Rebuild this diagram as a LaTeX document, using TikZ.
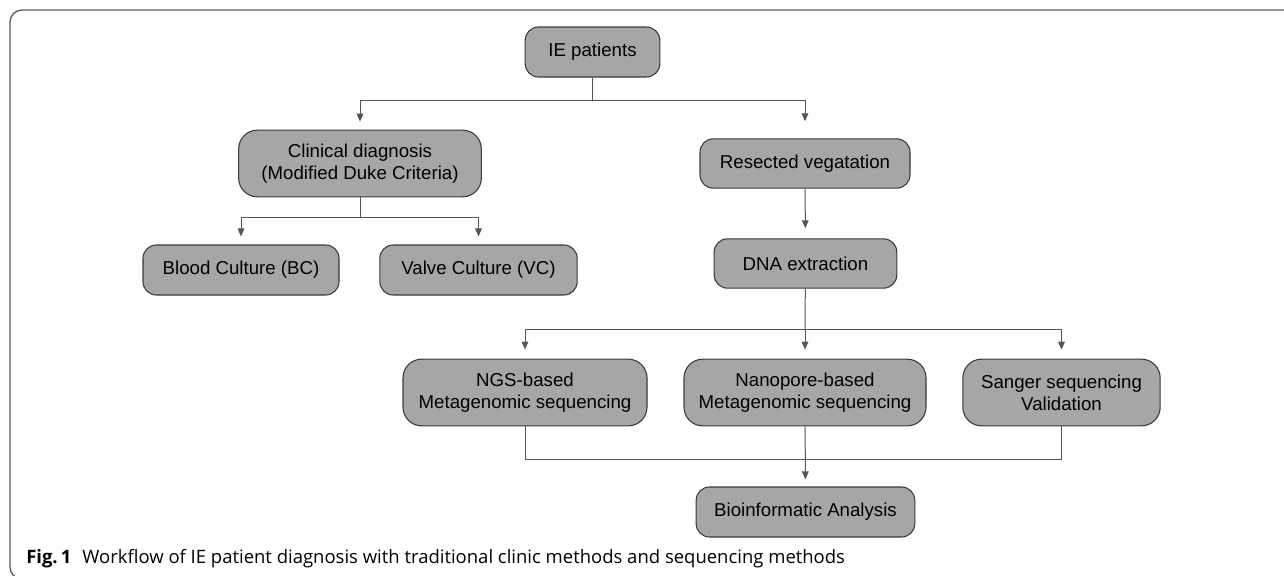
\documentclass[tikz,border=0pt]{standalone}
\usepackage{fontspec}
\setmainfont{Liberation Sans}
\newfontfamily\capfont{Open Sans}
\usetikzlibrary{arrows.meta}
\definecolor{boxfill}{HTML}{A6A6A6}
\definecolor{boxline}{HTML}{3A3A3A}
\definecolor{conn}{HTML}{555555}
\definecolor{framec}{HTML}{5A5A5A}
\tikzset{
  stepbox/.style={draw=boxline, fill=boxfill, line width=0.8pt, rounded corners=10pt,
    align=center, inner sep=0pt, font=\fontsize{14}{16.5}\selectfont, text=black},
  conn/.style={draw=conn, line width=0.75pt},
  arr/.style={conn, -{Triangle[length=6pt,width=5pt]}},
}
\begin{document}
\begin{tikzpicture}[x=0.75pt,y=-0.75pt]
\useasboundingbox (0,0) rectangle (1284,575);
\clip (0,0) rectangle (1284,575);
\draw[framec, line width=1pt, rounded corners=9pt] (10,10) rectangle (1310,579);

% nodes
\node[stepbox, minimum width=101pt, minimum height=37.5pt] (ie) at (592.5,52) {IE patients};
\node[stepbox, minimum width=182pt, minimum height=50pt, rounded corners=14pt] (clin) at (360,163.5) {Clinical diagnosis\\(Modified Duke Criteria)};
\node[stepbox, minimum width=157.5pt, minimum height=37pt] (res) at (805,163.5) {Resected vegatation};
\node[stepbox, minimum width=147pt, minimum height=37.5pt] (bc) at (241,270) {Blood Culture (BC)};
\node[stepbox, minimum width=148pt, minimum height=37.5pt] (vc) at (478.5,270) {Valve Culture (VC)};
\node[stepbox, minimum width=137pt, minimum height=37pt] (dna) at (805.5,263.5) {DNA extraction};
\node[stepbox, minimum width=183pt, minimum height=50pt, rounded corners=14pt] (ngs) at (525,392.5) {NGS-based\\Metagenomic sequencing};
\node[stepbox, minimum width=181.5pt, minimum height=50pt, rounded corners=14pt] (nano) at (805,392.5) {Nanopore-based\\Metagenomic sequencing};
\node[stepbox, minimum width=148pt, minimum height=50pt, rounded corners=14pt] (sang) at (1061.5,392.5) {Sanger sequencing\\Validation};
\node[stepbox, minimum width=164pt, minimum height=37.5pt] (bio) at (805.5,512) {Bioinformatic Analysis};

% junction coordinates
\coordinate (j1) at (592.5,100);
\coordinate (j2) at (360,217);
\coordinate (j3) at (805,329);
\coordinate (j4) at (805,459);

% connectors
\draw[conn] (ie) -- (j1);
\draw[arr, shorten >=6pt] (j1) -| (clin);
\draw[arr, shorten >=12.75pt] (j1) -| (res);
\draw[conn] (clin) -- (j2);
\draw[arr, shorten >=6pt] (j2) -| (bc);
\draw[arr, shorten >=6pt] (j2) -| (vc);
\draw[arr, shorten >=7.5pt] (res) -- (dna);
\draw[conn] (dna) -- (j3);
\draw[arr, shorten >=6.75pt] (j3) -| (ngs);
\draw[arr, shorten >=6.75pt] (j3) -- (nano);
\draw[arr, shorten >=6.75pt] (j3) -| (sang);
\draw[conn] (ngs) |- (j4);
\draw[conn] (sang) |- (j4);
\draw[arr, shorten >=5.25pt] (nano) -- (bio);

% caption
\node[anchor=base west, inner sep=0pt] (cap) at (26,563)
  {\resizebox{614pt}{!}{\capfont\fontsize{13}{15}\selectfont\textbf{Fig.\,1}\hspace{0.6em}Workflow of IE patient diagnosis with traditional clinic methods and sequencing methods}};
\end{tikzpicture}
\end{document}
